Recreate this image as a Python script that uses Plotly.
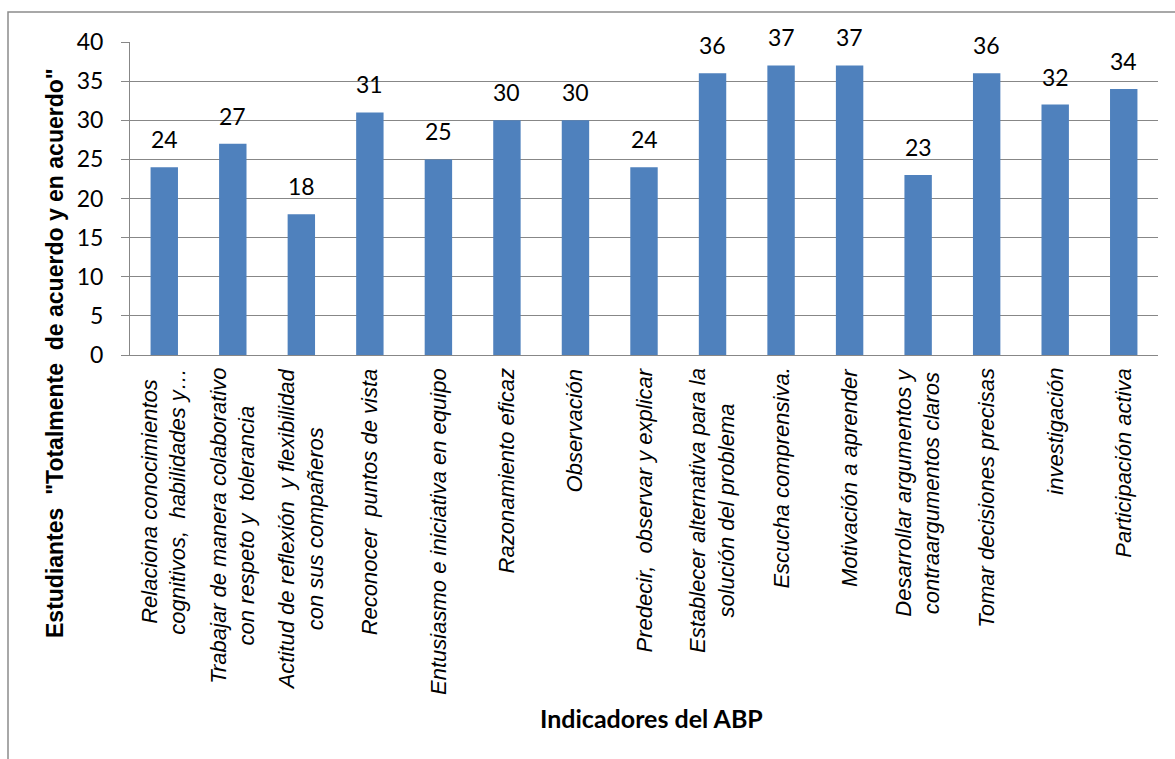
import plotly.graph_objects as go

categories = [
    "Relaciona conocimientos<br>cognitivos,  habilidades y…",
    "Trabajar de manera colaborativo<br>con respeto y  tolerancia",
    "Actitud de reflexión  y flexibilidad<br>con sus compañeros",
    "Reconocer  puntos de vista",
    "Entusiasmo e iniciativa en equipo",
    "Razonamiento eficaz",
    "Observación",
    "Predecir,  observar y explicar",
    "Establecer alternativa para la<br>solución del problema",
    "Escucha comprensiva.",
    "Motivación a aprender",
    "Desarrollar argumentos y<br>contraargumentos claros",
    "Tomar decisiones precisas",
    "investigación",
    "Participación activa",
]
values = [24, 27, 18, 31, 25, 30, 30, 24, 36, 37, 37, 23, 36, 32, 34]
y_ticks = [0, 5, 10, 15, 20, 25, 30, 35, 40]

y_title = 'Estudiantes \u00a0"Totalmente \u00a0de acuerdo y en acuerdo"'
x_title = "Indicadores del ABP"

W, H = 1175, 759
L, R, T, B = 130, 17, 42, 404
pw, ph = W - L - R, H - T - B

def px_x(p):
    return (p - L) / pw

def px_y(p):
    return (H - B - p) / ph

keys = [f"c{i}" for i in range(len(categories))]

fig = go.Figure()
fig.add_trace(go.Bar(
    x=keys, y=values,
    marker=dict(color="#4F81BD", line=dict(width=0)),
    hoverinfo="skip",
))

annotations = []
for k, v in zip(keys, values):
    annotations.append(dict(
        x=k, y=v, xref="x", yref="y", text=str(v), showarrow=False,
        yanchor="bottom", yshift=12,
        font=dict(family="Lato", size=23, color="black"),
    ))
for k, c in zip(keys, categories):
    annotations.append(dict(
        x=k, y=px_y(366), xref="x", yref="paper", text=f"<i>{c}</i>",
        showarrow=False, textangle=-90, xanchor="center", yanchor="top",
        align="center",
        font=dict(family="Liberation Sans", size=22, color="black"),
    ))
annotations.append(dict(
    x=px_x(55), y=px_y(353), xref="paper", yref="paper", text=f"<b>{y_title}</b>",
    showarrow=False, textangle=-90, xanchor="center", yanchor="middle",
    font=dict(family="Liberation Sans", size=23, color="black"),
))
annotations.append(dict(
    x=px_x(651), y=px_y(718), xref="paper", yref="paper", text=f"<b>{x_title}</b>",
    showarrow=False, xanchor="center", yanchor="middle",
    font=dict(family="Lato", size=25, color="black"),
))

fig.update_layout(
    width=W, height=H,
    margin=dict(l=L, r=R, t=T, b=B, pad=0),
    paper_bgcolor="white", plot_bgcolor="white",
    showlegend=False, bargap=0.6,
    annotations=annotations,
    shapes=[dict(type="rect", xref="paper", yref="paper",
                 x0=px_x(8), x1=px_x(1185), y0=px_y(12), y1=px_y(775),
                 line=dict(color="#8C8C8C", width=1.5), fillcolor="rgba(0,0,0,0)", layer="below")],
)
fig.update_xaxes(
    showticklabels=False, showgrid=False, showline=True, linecolor="#878787", linewidth=1,
    ticks="", zeroline=False, fixedrange=True,
)
fig.update_yaxes(
    range=[0, 40], tickvals=y_ticks, showgrid=True, gridcolor="#878787", gridwidth=1,
    showline=True, linecolor="#878787", linewidth=1, ticks="outside", ticklen=8,
    tickcolor="#878787", tickfont=dict(family="Lato", size=23, color="black"),
    zeroline=False, ticklabelstandoff=13, fixedrange=True,
)

fig.write_html("out.html")
